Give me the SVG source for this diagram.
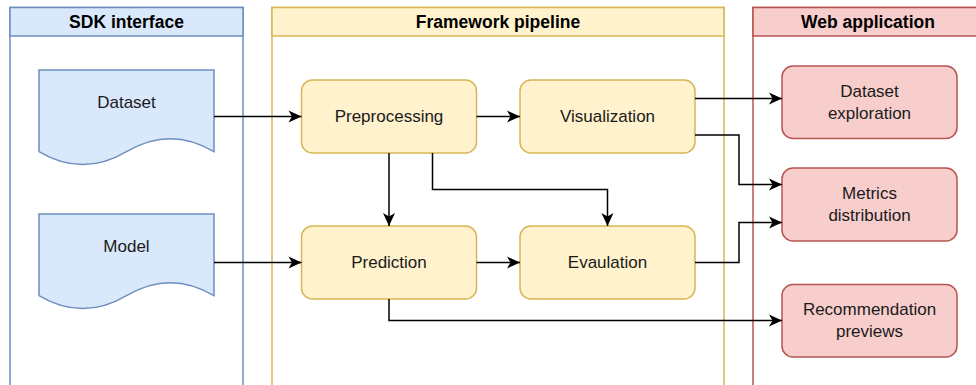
<svg xmlns="http://www.w3.org/2000/svg" width="976" height="385" viewBox="0 0 976 385">
<style>
text{font-family:"Liberation Sans",Arial,sans-serif;font-size:17px;fill:#1a1a1a;text-anchor:middle;dominant-baseline:central}
.h{font-weight:bold;font-size:17.5px;fill:#000}
.lb{stroke:#6c8ebf;fill:#dae8fc;stroke-width:1.5}
.ly{stroke:#d6b656;fill:#fff2cc;stroke-width:1.5}
.lr{stroke:#b85450;fill:#f8cecc;stroke-width:1.5}
.body{fill:#fff}
.c{fill:none;stroke:#000;stroke-width:1.5;marker-end:url(#a)}
</style>
<defs>
<marker id="a" markerUnits="userSpaceOnUse" markerWidth="13" markerHeight="12" refX="13" refY="6" orient="auto" overflow="visible">
<path d="M0,0 L13,6 L0,12 L3.5,6 Z" fill="#000"/>
</marker>
</defs>
<g id="lane-sdk">
<rect class="lb body" x="10" y="7.5" width="233" height="390"/>
<rect class="lb" x="10" y="7.5" width="233" height="28.5"/>
<text class="h" x="126.5" y="22">SDK interface</text>
</g>
<g id="lane-framework">
<rect class="ly body" x="272" y="7.5" width="452" height="390"/>
<rect class="ly" x="272" y="7.5" width="452" height="28.5"/>
<text class="h" x="498" y="22">Framework pipeline</text>
</g>
<g id="lane-web">
<rect class="lr body" x="753" y="7.5" width="230" height="390"/>
<rect class="lr" x="753" y="7.5" width="230" height="28.5"/>
<text class="h" x="868" y="22">Web application</text>
</g>
<g id="dataset">
<path class="lb" d="M39,70 L214,70 L214,151.6 Q170.25,125.7 126.5,151.6 Q82.75,177.5 39,151.6 Z"/>
<text x="126.5" y="102">Dataset</text>
</g>
<g id="model">
<path class="lb" d="M39,214 L214,214 L214,295.6 Q170.25,269.7 126.5,295.6 Q82.75,321.5 39,295.6 Z"/>
<text x="126.5" y="246">Model</text>
</g>
<g id="preprocessing">
<rect class="ly" x="301.5" y="80" width="175" height="73" rx="11"/>
<text x="389" y="116.5">Preprocessing</text>
</g>
<g id="visualization">
<rect class="ly" x="520" y="80" width="175" height="73" rx="11"/>
<text x="607.5" y="116.5">Visualization</text>
</g>
<g id="prediction">
<rect class="ly" x="301.5" y="226" width="175" height="73" rx="11"/>
<text x="389" y="262.5">Prediction</text>
</g>
<g id="evaluation">
<rect class="ly" x="520" y="226" width="175" height="73" rx="11"/>
<text x="607.5" y="262.5">Evaulation</text>
</g>
<g id="dataset-exploration">
<rect class="lr" x="782" y="66" width="175" height="72.5" rx="11"/>
<text x="869.5" y="91">Dataset</text>
<text x="869.5" y="113">exploration</text>
</g>
<g id="metrics-distribution">
<rect class="lr" x="782" y="168" width="175" height="73" rx="11"/>
<text x="869.5" y="193">Metrics</text>
<text x="869.5" y="215">distribution</text>
</g>
<g id="recommendation-previews">
<rect class="lr" x="782" y="284.5" width="175" height="72.5" rx="11"/>
<text x="869.5" y="309.5">Recommendation</text>
<text x="869.5" y="331.5">previews</text>
</g>
<g id="connectors">
<path class="c" d="M214,116.5 L301.5,116.5"/>
<path class="c" d="M214,262.5 L301.5,262.5"/>
<path class="c" d="M476.5,116.5 L520,116.5"/>
<path class="c" d="M476.5,262.5 L520,262.5"/>
<path class="c" d="M389,153 L389,226"/>
<path class="c" d="M432.5,153 L432.5,189.5 L607.5,189.5 L607.5,226"/>
<path class="c" d="M695,98.5 L782,98.5"/>
<path class="c" d="M695,135 L739,135 L739,184.5 L782,184.5"/>
<path class="c" d="M695,262.5 L739,262.5 L739,222.5 L782,222.5"/>
<path class="c" d="M389,299 L389,320.5 L782,320.5"/>
</g>
</svg>
